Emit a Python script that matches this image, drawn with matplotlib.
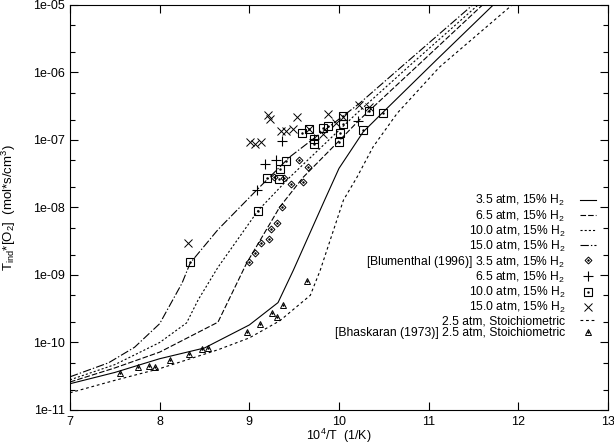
import numpy as np
import matplotlib
matplotlib.use("Agg")
import matplotlib.pyplot as plt
from matplotlib.legend_handler import HandlerTuple
from matplotlib.ticker import FixedLocator, FuncFormatter, NullLocator

plt.rcParams['font.family'] = ['Liberation Sans', 'DejaVu Sans']
plt.rcParams['mathtext.fontset'] = 'custom'
plt.rcParams['mathtext.rm'] = 'Liberation Sans'
plt.rcParams['mathtext.it'] = 'Liberation Sans:italic'
plt.rcParams['lines.scale_dashes'] = False

# model curves, x = 10^4/T, y = tau_ind*[O2]
x_35 = [7.0, 7.5, 8.0, 8.5, 9.0, 9.32, 9.49, 9.84, 10.0, 10.27, 10.49, 11.09, 11.72]
y_35 = [2.45e-11, 3.6e-11, 5.75e-11, 8.3e-11, 1.82e-10, 3.9e-10, 1.17e-9, 1.29e-8,
        3.8e-8, 1.32e-7, 2.57e-7, 1.55e-6, 1.0e-5]

x_65 = [7.0, 7.5, 8.0, 8.65, 8.97, 9.34, 9.6, 10.01, 10.23, 10.9, 11.6]
y_65 = [2.6e-11, 4.2e-11, 7.2e-11, 2.0e-10, 1.5e-9, 1.02e-8, 2.8e-8, 1.0e-7,
        2.0e-7, 1.35e-6, 1.0e-5]

x_100 = [7.0, 7.5, 8.0, 8.3, 8.43, 8.65, 9.10, 9.45, 10.2, 10.82, 11.55]
y_100 = [2.8e-11, 4.7e-11, 1.0e-10, 1.95e-10, 4.3e-10, 1.3e-9, 9.1e-9, 2.8e-8,
         2.5e-7, 1.38e-6, 1.0e-5]

x_150 = [7.0, 7.43, 7.72, 8.0, 8.25, 8.34, 8.65, 9.08, 9.45, 10.23, 10.75, 11.49]
y_150 = [3.1e-11, 5.0e-11, 8.5e-11, 1.9e-10, 7.6e-10, 1.5e-9, 4.7e-9, 1.8e-8,
         5.6e-8, 3.5e-7, 1.4e-6, 1.0e-5]

x_st = [7.0, 7.5, 8.0, 8.65, 9.0, 9.34, 9.68, 9.79, 10.05, 10.2, 10.38, 10.65, 11.12, 11.93]
y_st = [1.8e-11, 2.75e-11, 4.1e-11, 7.8e-11, 1.17e-10, 2.1e-10, 5.0e-10, 1.17e-9,
        1.29e-8, 2.8e-8, 7.9e-8, 2.5e-7, 1.2e-6, 1.0e-5]

# Blumenthal (1996)
bl35_x = [9.00, 9.06, 9.13, 9.22, 9.24, 9.31, 9.36, 9.27, 9.39, 9.47, 9.60, 9.55, 9.65]
bl35_y = [1.55e-9, 2.1e-9, 2.95e-9, 3.4e-9, 4.8e-9, 5.9e-9, 1.02e-8, 2.8e-8,
          2.75e-8, 2.25e-8, 2.4e-8, 5.0e-8, 4.0e-8]

bl65_x = [9.08, 9.18, 9.30, 9.36, 9.72, 10.21]
bl65_y = [1.8e-8, 4.4e-8, 5.0e-8, 9.8e-8, 1.02e-7, 1.9e-7]

bl100_x = [8.34, 9.10, 9.20, 9.33, 9.34, 9.41, 9.59, 9.66, 9.72, 9.72, 9.82, 9.88,
           10.00, 10.01, 10.04, 10.04, 10.27, 10.33, 10.49]
bl100_y = [1.55e-9, 8.9e-9, 2.75e-8, 2.6e-8, 3.7e-8, 4.9e-8, 1.26e-7, 1.48e-7,
           8.7e-8, 1.02e-7, 1.51e-7, 1.62e-7, 9.3e-8, 1.26e-7, 1.74e-7, 2.3e-7,
           1.41e-7, 2.7e-7, 2.5e-7]

bl150_x = [8.32, 9.01, 9.06, 9.13, 9.21, 9.23, 9.35, 9.41, 9.49, 9.53, 9.66, 9.82,
           9.88, 9.97, 10.04, 10.22, 10.33]
bl150_y = [2.95e-9, 9.3e-8, 8.7e-8, 9.3e-8, 2.35e-7, 2.05e-7, 1.35e-7, 1.35e-7,
           1.45e-7, 2.2e-7, 1.48e-7, 1.23e-7, 2.45e-7, 1.78e-7, 2.2e-7, 3.3e-7, 3.1e-7]

# Bhaskaran (1973)
bh_x = [7.56, 7.76, 7.88, 7.95, 8.11, 8.33, 8.47, 8.54, 8.97, 9.12, 9.25, 9.31, 9.38, 9.64]
bh_y = [3.55e-11, 4.4e-11, 4.5e-11, 4.4e-11, 5.5e-11, 6.8e-11, 7.9e-11, 8.3e-11,
        1.45e-10, 1.86e-10, 2.75e-10, 2.4e-10, 3.6e-10, 8.1e-10]

yticks = [1e-11, 1e-10, 1e-9, 1e-8, 1e-7, 1e-6, 1e-5]

fs = 9
fig = plt.figure(figsize=(6.14, 4.44), dpi=100)
ax = fig.add_axes([70 / 614, 34 / 444, 538 / 614, 405 / 444])
ax.set_yscale('log')

lw = 0.8
l35, = ax.plot(x_35, y_35, color='k', lw=lw, ls='-')
l65, = ax.plot(x_65, y_65, color='k', lw=lw, ls=(0, (4, 1.5)))
l100, = ax.plot(x_100, y_100, color='k', lw=lw, ls=(0, (1.5, 1.5)))
l150, = ax.plot(x_150, y_150, color='k', lw=lw, ls=(0, (6, 1.5, 1, 1.5)))
lst, = ax.plot(x_st, y_st, color='k', lw=lw, ls=(0, (2, 2)))

def dots(xs, ys):
    ax.plot(xs, ys, ls='none', marker='.', ms=1.5, color='k')

m35, = ax.plot(bl35_x, bl35_y, ls='none', marker='D', ms=3.5, mfc='none', mec='k', mew=0.7)
dots(bl35_x, bl35_y)
m65, = ax.plot(bl65_x, bl65_y, ls='none', marker='+', ms=7, mec='k', mew=0.8)
m100, = ax.plot(bl100_x, bl100_y, ls='none', marker='s', ms=6, mfc='none', mec='k', mew=0.8)
dots(bl100_x, bl100_y)
m150, = ax.plot(bl150_x, bl150_y, ls='none', marker='x', ms=5.5, mec='k', mew=0.7)
mbh, = ax.plot(bh_x, bh_y, ls='none', marker='^', ms=4, mfc='none', mec='k', mew=0.7)
dots(bh_x, bh_y)

ax.set_xlim(7, 13)
ax.set_ylim(1e-11, 1e-5)
ax.set_xticks([7, 8, 9, 10, 11, 12, 13])
ax.xaxis.set_minor_locator(NullLocator())
ax.yaxis.set_major_locator(FixedLocator(yticks))
ax.yaxis.set_major_formatter(FuncFormatter(lambda v, p: f"{v:.0e}"))
minor = [m * d for d in yticks[:-1] for m in (2, 5)]
ax.yaxis.set_minor_locator(FixedLocator(minor))
ax.tick_params(which='both', direction='in', top=True, right=True, labelsize=fs,
               width=0.8, colors='k')
ax.tick_params(which='major', length=6)
ax.tick_params(which='minor', length=3.5)
ax.tick_params(axis='x', pad=4.5)
for s in ax.spines.values():
    s.set_linewidth(0.8)

ax.set_xlabel('10$^4$/T  (1/K)', fontsize=fs)
ax.xaxis.set_label_coords(0.5, -0.042)
ax.set_ylabel('T$_{\\mathrm{ind}}$*[O$_2$]  (mol*s/cm$^3$)', fontsize=9.5)
ax.yaxis.set_label_coords(-0.097, 0.5)

dot_h = plt.Line2D([], [], ls='none', marker='.', ms=1.5, color='k')
handles = [l35, l65, l100, l150, (m35, dot_h), m65, (m100, dot_h), m150, lst, (mbh, dot_h)]
labels = ['3.5 atm, 15% H$_2$', '6.5 atm, 15% H$_2$', '10.0 atm, 15% H$_2$',
          '15.0 atm, 15% H$_2$', '[Blumenthal (1996)] 3.5 atm, 15% H$_2$',
          '6.5 atm, 15% H$_2$', '10.0 atm, 15% H$_2$', '15.0 atm, 15% H$_2$',
          '2.5 atm, Stoichiometric', '[Bhaskaran (1973)] 2.5 atm, Stoichiometric']
ax.legend(handles, labels, loc='upper right', bbox_to_anchor=(0.978, 0.535),
          frameon=False, markerfirst=False, fontsize=8.7, handlelength=1.35,
          handletextpad=1.2, labelspacing=0.0, borderpad=0, borderaxespad=0,
          handler_map={tuple: HandlerTuple(ndivide=1, pad=0)})

fig.savefig('out.png', dpi=100)
